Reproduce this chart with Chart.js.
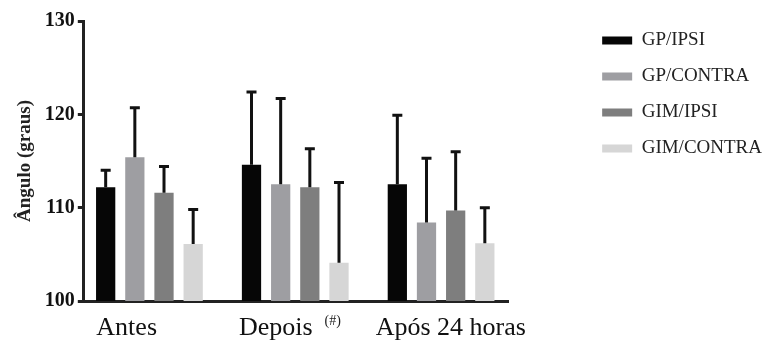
<!DOCTYPE html>
<html lang="pt-br">
<head>
    <meta charset="UTF-8">
    <title>Ângulo (graus)</title>
    <script src="https://cdn.jsdelivr.net/npm/chart.js"></script>
    <style>
        html, body { margin: 0; padding: 0; background: #fff; }
        .grafico { width: 772px; height: 345px; }
    </style>
</head>
<body>
    <div class="grafico">
        <canvas id="MyChart"></canvas>
    </div>
<script>
    // dados
    var categorias = ['Antes', 'Depois', 'Após 24 horas'];
    var grupos = ['GP/IPSI', 'GP/CONTRA', 'GIM/IPSI', 'GIM/CONTRA'];
    var gpIpsi = [112.2, 114.6, 112.5];
    var gpContra = [115.4, 112.5, 108.4];
    var gimIpsi = [111.6, 112.2, 109.7];
    var gimContra = [106.1, 104.1, 106.2];
    // desvio padrão (só a barra de cima)
    var gpIpsiDp = [1.8, 7.8, 7.4];
    var gpContraDp = [5.3, 9.2, 6.9];
    var gimIpsiDp = [2.8, 4.1, 6.3];
    var gimContraDp = [3.7, 8.6, 3.8];
    var ticksY = [100, 110, 120, 130];

    var serif = '"Liberation Serif", "Times New Roman", serif';
    var cores = ['#060606', '#9e9ea2', '#7e7e7e', '#d6d6d6'];
    var valores = [gpIpsi, gpContra, gimIpsi, gimContra];
    var desvios = [gpIpsiDp, gpContraDp, gimIpsiDp, gimContraDp];

    // rótulos do eixo x com espaço reservado (o Prism não centraliza)
    var rotulosX = ['Antes       ', 'Depois      ', '   Após 24 horas'];

    var datasets = [];
    for (var i = 0; i < grupos.length; i++) {
        datasets.push({
            label: grupos[i],
            data: valores[i],
            desvio: desvios[i],
            backgroundColor: cores[i],
            borderWidth: 0,
            categoryPercentage: 0.8,
            barPercentage: 0.66
        });
    }

    // barras de erro (média + DP)
    var barrasErro = {
        id: 'barrasErro',
        afterDatasetsDraw: function (chart) {
            var ctx = chart.ctx;
            var y = chart.scales.y;
            ctx.save();
            ctx.strokeStyle = '#111';
            ctx.lineWidth = 3;
            chart.data.datasets.forEach(function (ds, d) {
                var meta = chart.getDatasetMeta(d);
                meta.data.forEach(function (bar, j) {
                    var topo = y.getPixelForValue(ds.data[j] + ds.desvio[j]);
                    ctx.beginPath();
                    ctx.moveTo(bar.x, bar.y);
                    ctx.lineTo(bar.x, topo);
                    ctx.moveTo(bar.x - 5, topo);
                    ctx.lineTo(bar.x + 5, topo);
                    ctx.stroke();
                });
            });
            ctx.restore();
        }
    };

    // o "(#)" sobrescrito depois de "Depois"
    var sobrescrito = {
        id: 'sobrescrito',
        afterDraw: function (chart) {
            var ctx = chart.ctx;
            var x = chart.scales.x;
            ctx.save();
            ctx.font = '26px ' + serif;
            var inicio = x.getPixelForTick(1) - ctx.measureText(rotulosX[1]).width / 2;
            var larg = ctx.measureText('Depois').width;
            ctx.font = '14px ' + serif;
            ctx.fillStyle = '#222';
            ctx.textBaseline = 'top';
            ctx.fillText('(#)', inicio + larg + 12, x.top + 13);
            ctx.restore();
        }
    };

    // espaço entre o gráfico e a legenda
    var espacoLegenda = {
        id: 'espacoLegenda',
        beforeInit: function (chart) {
            Chart.layouts.addBox(chart, {
                position: 'right',
                weight: 500,
                fullSize: false,
                options: {},
                left: 0, top: 0, right: 0, bottom: 0, width: 0, height: 0,
                isHorizontal: function () { return false; },
                update: function (maxWidth, maxHeight) {
                    this.width = 77;
                    this.height = maxHeight;
                },
                draw: function () {}
            });
        }
    };

    const config = {
        type: 'bar',
        data: {
            labels: categorias,
            datasets: datasets
        },
        plugins: [barrasErro, sobrescrito, espacoLegenda],
        options: {
            responsive: true,
            maintainAspectRatio: false,
            animation: false,
            layout: { padding: { top: 14, right: 0, bottom: 0, left: 0 } },
            plugins: {
                tooltip: { enabled: false },
                legend: {
                    position: 'right',
                    align: 'start',
                    maxWidth: 220,
                    labels: {
                        font: { family: serif, size: 19 },
                        color: '#222',
                        boxWidth: 30,
                        boxHeight: 8,
                        padding: 17
                    }
                }
            },
            scales: {
                x: {
                    grid: { display: false, drawTicks: false },
                    border: { display: true, color: '#222', width: 3 },
                    afterBuildTicks: function (scale) {
                        scale._startValue = -0.45;
                        scale._valueRange = 2.91;
                    },
                    afterFit: function (scale) {
                        scale.height = 44;
                    },
                    ticks: {
                        padding: 12,
                        color: '#111',
                        autoSkip: false,
                        font: { family: serif, size: 26 },
                        maxRotation: 0,
                        callback: function (v, i) { return rotulosX[i]; }
                    }
                },
                y: {
                    min: 100,
                    max: 130,
                    afterBuildTicks: function (scale) {
                        scale.ticks = ticksY.map(function (v) { return { value: v }; });
                    },
                    grid: {
                        drawOnChartArea: false,
                        drawTicks: true,
                        tickLength: 6,
                        tickWidth: 3,
                        tickColor: '#222'
                    },
                    border: { display: true, color: '#222', width: 3 },
                    ticks: {
                        padding: 3,
                        color: '#111',
                        font: { family: serif, size: 20, weight: 'bold', lineHeight: 1.8 }
                    },
                    title: {
                        display: true,
                        text: 'Ângulo (graus)',
                        color: '#222',
                        font: { family: serif, size: 19, weight: 'bold' },
                        padding: { top: 14, bottom: 5 }
                    }
                }
            }
        }
    };

    let MyChart = new Chart(document.getElementById('MyChart'), config);
</script>
</body>
</html>
